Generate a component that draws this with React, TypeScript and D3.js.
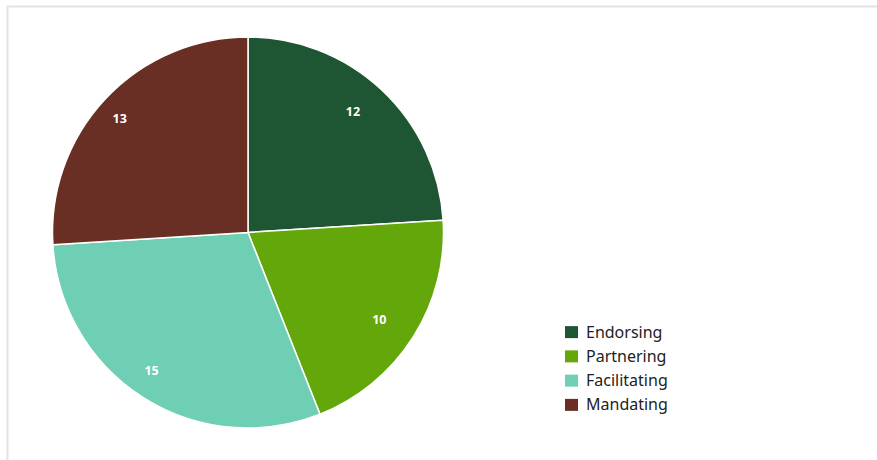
import React from "react";
import * as d3 from "d3";

const categories = ["Endorsing", "Partnering", "Facilitating", "Mandating"];
const values = [12, 10, 15, 13];
const colors = ["#1e5633", "#64a70b", "#6ecfb4", "#692f24"];

export default function App() {
  const W = 877, H = 460;
  const cx = 248, cy = 232.5, R = 195.5;
  const data = categories.map((c, i) => ({ c, v: values[i], col: colors[i] }));
  const pie = d3.pie<any>().value((d) => d.v).sort(null);
  const arcs = pie(data);
  const arc = d3.arc<any>().innerRadius(0).outerRadius(R);
  const labelArc = d3.arc<any>().innerRadius(165).outerRadius(165);
  const legendY = d3.scaleBand().domain(categories).range([320, 417]);
  return (
    <svg width={W} height={H} style={{ position: "absolute", left: 0, top: 0 }}>
      <rect x={0} y={0} width={W} height={H} fill="#fff" />
      <path d={`M7.5,${H} V6.5 H${W}`} fill="none" stroke="#e3e3e3" strokeWidth={2} />
      <g transform={`translate(${cx},${cy})`}>
        {arcs.map((a, i) => (
          <path key={i} d={arc(a) || ""} fill={a.data.col} stroke="#fff" strokeWidth={1.5} strokeLinejoin="round" />
        ))}
        <g transform="translate(-8,-1)">
          {arcs.map((a, i) => {
            const [x, y] = labelArc.centroid(a);
            return (
              <text key={"t" + i} x={x} y={y} dy="0.36em" textAnchor="middle" fill="#fff"
                fontFamily="'Open Sans', sans-serif" fontWeight={700} fontSize={12.5}>
                {a.data.v}
              </text>
            );
          })}
        </g>
      </g>
      {categories.map((c, i) => {
        const y = (legendY(c) || 0) + legendY.bandwidth() / 2;
        return (
          <g key={c}>
            <rect x={565} y={y - 6} width={13} height={12} fill={colors[i]} />
            <text x={586} y={y} dy="0.35em" fontFamily="'Noto Sans', sans-serif" fontSize={16} fill="#222">
              {c}
            </text>
          </g>
        );
      })}
    </svg>
  );
}
